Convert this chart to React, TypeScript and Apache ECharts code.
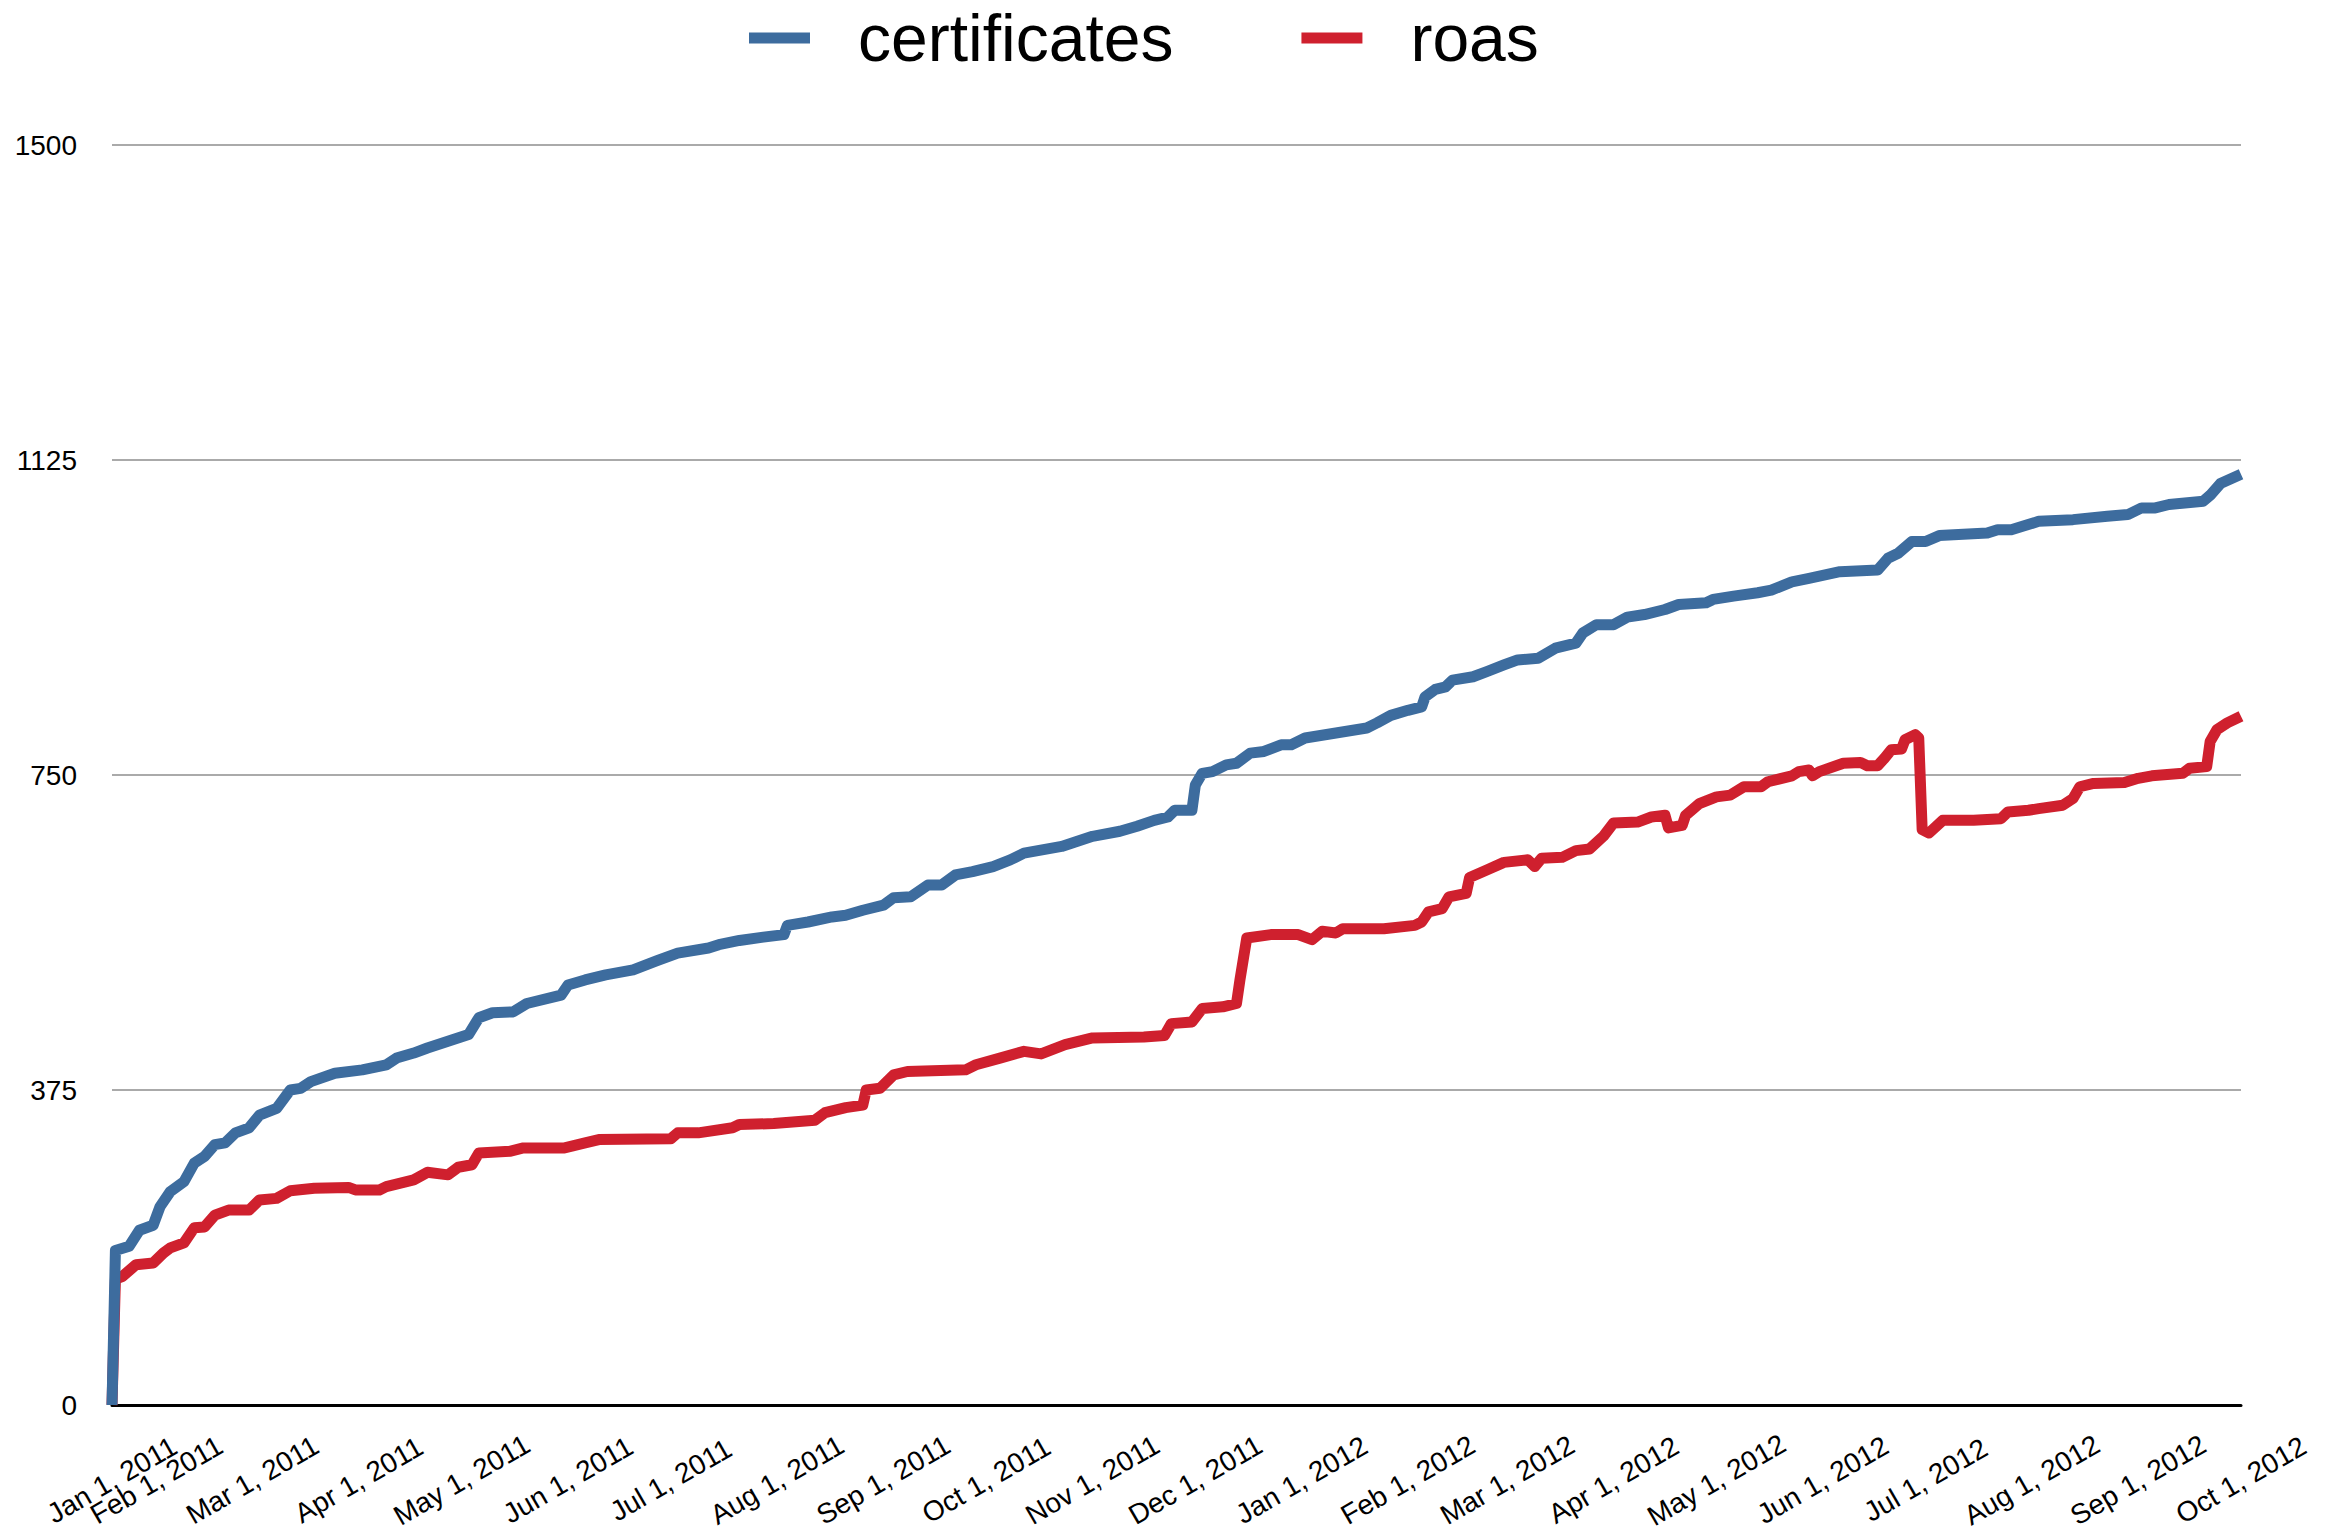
import React, { useEffect, useRef } from 'react';
import * as echarts from 'echarts';

// ---- axis categories ----
const MONTHS = ['Jan', 'Feb', 'Mar', 'Apr', 'May', 'Jun', 'Jul', 'Aug', 'Sep', 'Oct', 'Nov', 'Dec'];
const firstCategory = '2011-01-01';
const dailyStart = '2011-01-20';
const dailyEnd = '2012-10-01';
const yTicks = { min: 0, max: 1500, interval: 375 };
const seriesNames = ['certificates', 'roas'];

// ---- series values ----
const certificateDates = [
  '2011-01-01', '2011-01-20', '2011-01-24', '2011-01-27', '2011-01-31', '2011-02-02', '2011-02-05', '2011-02-09',
  '2011-02-12', '2011-02-15', '2011-02-18', '2011-02-21', '2011-02-24', '2011-02-28', '2011-03-03', '2011-03-08',
  '2011-03-12', '2011-03-15', '2011-03-18', '2011-03-25', '2011-04-02', '2011-04-09', '2011-04-12', '2011-04-17',
  '2011-04-21', '2011-04-27', '2011-05-03', '2011-05-06', '2011-05-10', '2011-05-16', '2011-05-20', '2011-05-30',
  '2011-06-01', '2011-06-06', '2011-06-12', '2011-06-20', '2011-06-27', '2011-07-03', '2011-07-12', '2011-07-15',
  '2011-07-21', '2011-07-28', '2011-08-03', '2011-08-04', '2011-08-10', '2011-08-17', '2011-08-21', '2011-08-26',
  '2011-09-01', '2011-09-04', '2011-09-09', '2011-09-14', '2011-09-18', '2011-09-22', '2011-09-27', '2011-10-03',
  '2011-10-08', '2011-10-12', '2011-10-23', '2011-11-01', '2011-11-09', '2011-11-14', '2011-11-19', '2011-11-23',
  '2011-11-25', '2011-11-30', '2011-12-01', '2011-12-03', '2011-12-06', '2011-12-10', '2011-12-13', '2011-12-17',
  '2011-12-21', '2011-12-26', '2011-12-29', '2012-01-02', '2012-01-11', '2012-01-20', '2012-01-23', '2012-01-27',
  '2012-02-01', '2012-02-05', '2012-02-06', '2012-02-09', '2012-02-12', '2012-02-14', '2012-02-20', '2012-02-24',
  '2012-02-29', '2012-03-04', '2012-03-10', '2012-03-15', '2012-03-21', '2012-03-23', '2012-03-27', '2012-04-01',
  '2012-04-05', '2012-04-10', '2012-04-16', '2012-04-20', '2012-04-28', '2012-04-30', '2012-05-06', '2012-05-13',
  '2012-05-17', '2012-05-23', '2012-05-28', '2012-06-06', '2012-06-17', '2012-06-20', '2012-06-23', '2012-06-27',
  '2012-07-01', '2012-07-05', '2012-07-19', '2012-07-22', '2012-07-26', '2012-07-30', '2012-08-03', '2012-08-13',
  '2012-08-23', '2012-08-29', '2012-09-02', '2012-09-06', '2012-09-10', '2012-09-20', '2012-09-22', '2012-09-25',
  '2012-10-01',
];
const certificateValues = [
  0, 184, 189, 208, 214, 236, 254, 266,
  288, 296, 310, 312, 324, 330, 345, 353,
  375, 377, 385, 395, 399, 405, 413, 419,
  425, 433, 441, 461, 467, 468, 478, 488,
  500, 506, 512, 518, 529, 538, 544, 548,
  553, 557, 560, 571, 575, 581, 583, 589,
  595, 604, 605, 619, 619, 631, 635, 641,
  649, 657, 665, 677, 683, 689, 696, 700,
  708, 708, 738, 752, 754, 762, 764, 776,
  778, 786, 786, 794, 800, 806, 812, 821,
  827, 831, 843, 852, 855, 863, 867, 873,
  881, 887, 889, 901, 907, 919, 929, 929,
  938, 941, 947, 953, 955, 959, 963, 967,
  970, 980, 984, 992, 994, 1008, 1014, 1028,
  1028, 1035, 1038, 1042, 1042, 1047, 1052, 1054,
  1058, 1060, 1068, 1068, 1072, 1076, 1083, 1097,
  1108,
];

const roaDates = [
  '2011-01-01', '2011-01-20', '2011-01-22', '2011-01-26', '2011-01-31', '2011-02-03', '2011-02-05', '2011-02-09',
  '2011-02-12', '2011-02-15', '2011-02-18', '2011-02-22', '2011-02-28', '2011-03-03', '2011-03-08', '2011-03-12',
  '2011-03-19', '2011-03-29', '2011-03-31', '2011-04-07', '2011-04-09', '2011-04-17', '2011-04-21', '2011-04-27',
  '2011-04-30', '2011-05-04', '2011-05-06', '2011-05-15', '2011-05-19', '2011-05-31', '2011-06-06', '2011-06-10',
  '2011-07-01', '2011-07-03', '2011-07-09', '2011-07-19', '2011-07-21', '2011-07-31', '2011-08-12', '2011-08-15',
  '2011-08-21', '2011-08-26', '2011-08-27', '2011-08-31', '2011-09-04', '2011-09-08', '2011-09-25', '2011-09-28',
  '2011-10-05', '2011-10-12', '2011-10-17', '2011-10-24', '2011-11-01', '2011-11-16', '2011-11-22', '2011-11-24',
  '2011-11-30', '2011-12-03', '2011-12-09', '2011-12-13', '2011-12-14', '2011-12-16', '2011-12-23', '2011-12-31',
  '2012-01-04', '2012-01-07', '2012-01-11', '2012-01-13', '2012-01-25', '2012-02-03', '2012-02-05', '2012-02-07',
  '2012-02-11', '2012-02-13', '2012-02-18', '2012-02-19', '2012-02-24', '2012-02-29', '2012-03-07', '2012-03-09',
  '2012-03-11', '2012-03-17', '2012-03-21', '2012-03-25', '2012-03-29', '2012-04-01', '2012-04-08', '2012-04-12',
  '2012-04-16', '2012-04-17', '2012-04-21', '2012-04-22', '2012-04-26', '2012-05-01', '2012-05-05', '2012-05-09',
  '2012-05-14', '2012-05-16', '2012-05-23', '2012-05-25', '2012-05-28', '2012-05-29', '2012-05-31', '2012-06-07',
  '2012-06-12', '2012-06-14', '2012-06-17', '2012-06-19', '2012-06-21', '2012-06-24', '2012-06-25', '2012-06-28',
  '2012-06-29', '2012-06-30', '2012-07-02', '2012-07-06', '2012-07-15', '2012-07-23', '2012-07-25', '2012-07-31',
  '2012-08-03', '2012-08-10', '2012-08-13', '2012-08-15', '2012-08-19', '2012-08-28', '2012-09-01', '2012-09-05',
  '2012-09-14', '2012-09-16', '2012-09-21', '2012-09-22', '2012-09-24', '2012-09-27', '2012-10-01',
];
const roaValues = [
  0, 150, 153, 167, 169, 181, 187, 193,
  211, 212, 226, 232, 232, 244, 246, 255,
  258, 259, 256, 256, 260, 268, 277, 274,
  283, 286, 300, 302, 306, 306, 312, 316,
  317, 324, 324, 330, 334, 335, 339, 348,
  354, 357, 375, 377, 393, 397, 399, 405,
  413, 421, 418, 429, 437, 438, 440, 454,
  456, 472, 474, 478, 506, 556, 560, 560,
  554, 564, 562, 567, 567, 571, 575, 587,
  591, 605, 609, 628, 637, 646, 649, 641,
  651, 652, 660, 662, 677, 693, 694, 700,
  702, 687, 690, 702, 716, 724, 726, 736,
  736, 742, 749, 754, 756, 749, 754, 764,
  765, 761, 761, 770, 780, 781, 792, 798,
  794, 685, 681, 696, 696, 698, 706, 708,
  710, 714, 722, 736, 740, 741, 746, 749,
  752, 758, 760, 790, 804, 812, 820,
];

const BLUE = '#3D6C9E';
const RED = '#CF202E';
const FONT = '"Liberation Sans", Arial, Helvetica, sans-serif';

function iso(d: Date): string {
  return d.toISOString().slice(0, 10);
}

function buildCategories(): string[] {
  const out = [firstCategory];
  const end = new Date(dailyEnd + 'T00:00:00Z').getTime();
  for (let t = new Date(dailyStart + 'T00:00:00Z').getTime(); t <= end; t += 86400000) {
    out.push(iso(new Date(t)));
  }
  return out;
}

function formatDate(v: string): string {
  const [y, m, d] = v.split('-');
  return `${MONTHS[parseInt(m, 10) - 1]} ${parseInt(d, 10)}, ${y}`;
}

function zip(dates: string[], values: number[]) {
  return dates.map((d, i) => [d, values[i]]);
}

const labelStyle = {
  formatter: (v: string) => formatDate(v),
  rotate: 30,
  align: 'center',
  verticalAlign: 'middle',
  margin: 75,
  fontSize: 28,
  color: '#000',
  fontFamily: FONT,
  hideOverlap: false,
};

export default function App() {
  const ref = useRef<HTMLDivElement>(null);

  useEffect(() => {
    if (!ref.current) return;
    const chart = echarts.init(ref.current, undefined, { renderer: 'svg' });
    const categories = buildCategories();
    const secondLabel = categories.find((c, i) => i > 0 && c.endsWith('-01'));
    chart.setOption({
      animation: false,
      backgroundColor: '#ffffff',
      textStyle: { fontFamily: FONT },
      legend: {
        data: seriesNames,
        left: 744,
        top: 0,
        icon: 'rect',
        itemWidth: 61,
        itemHeight: 11,
        itemGap: 128,
        textStyle: { fontSize: 66, color: '#000', fontFamily: FONT, padding: [0, 0, 0, 43] },
      },
      grid: { left: 112, right: 98, top: 145, bottom: 130, containLabel: false, outerBoundsMode: 'none' },
      xAxis: [
        {
          type: 'category',
          data: categories,
          boundaryGap: false,
          axisLine: { lineStyle: { color: '#000', width: 3 } },
          axisTick: { show: false },
          splitLine: { show: false },
          axisLabel: {
            ...labelStyle,
            interval: (i: number, v: string) => v.endsWith('-01') && v !== secondLabel,
            showMinLabel: true,
            showMaxLabel: true,
          },
        },
        {
          type: 'category',
          data: categories,
          position: 'bottom',
          boundaryGap: false,
          axisLine: { show: false },
          axisTick: { show: false },
          splitLine: { show: false },
          axisLabel: {
            ...labelStyle,
            interval: (i: number, v: string) => v === secondLabel,
          },
        },
      ],
      yAxis: {
        type: 'value',
        min: yTicks.min,
        max: yTicks.max,
        interval: yTicks.interval,
        axisLine: { show: false },
        axisTick: { show: false },
        axisLabel: { fontSize: 28, color: '#000', margin: 35, fontFamily: FONT, formatter: (v: number) => String(v) },
        splitLine: { lineStyle: { color: '#aaaaaa', width: 2 } },
      },
      series: [
        {
          name: seriesNames[0],
          type: 'line',
          xAxisIndex: 0,
          data: zip(certificateDates, certificateValues),
          symbol: 'none',
          z: 3,
          lineStyle: { color: BLUE, width: 11, join: 'round', cap: 'butt' },
          itemStyle: { color: BLUE },
        },
        {
          name: seriesNames[1],
          type: 'line',
          xAxisIndex: 0,
          data: zip(roaDates, roaValues),
          symbol: 'none',
          z: 2,
          lineStyle: { color: RED, width: 11, join: 'round', cap: 'butt' },
          itemStyle: { color: RED },
        },
      ],
    });
    return () => chart.dispose();
  }, []);

  return (
    <div
      ref={ref}
      style={{ position: 'fixed', left: 0, top: 0, width: 2339, height: 1535, background: '#fff' }}
    />
  );
}
